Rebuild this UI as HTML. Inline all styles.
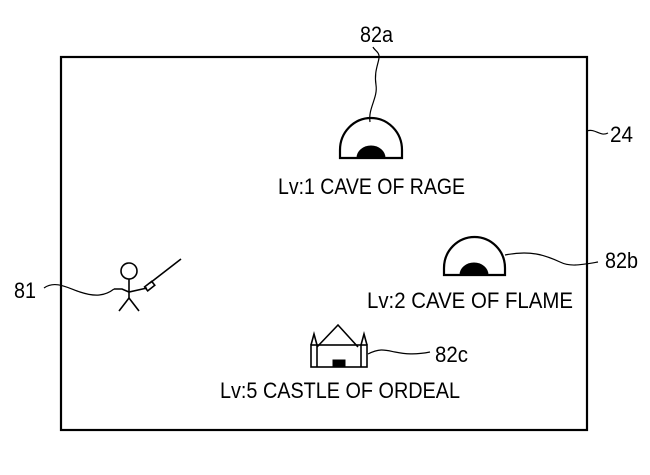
<!DOCTYPE html>
<html><head><style>body{margin:0;background:#fff}svg{display:block}</style></head><body>
<svg width="650" height="475" viewBox="0 0 650 475" xmlns="http://www.w3.org/2000/svg" font-family="'Liberation Sans', sans-serif" fill="none" stroke="#000">
<rect x="61" y="57" width="526" height="373" stroke-width="2.2"/>
<!-- 82a -->
<path d="M340 158 L340 150 A31 32 0 0 1 402 150 L402 158 Z" stroke-width="2.2"/>
<path d="M357 158 A14 12 0 0 1 385 158 Z" fill="#000"/>
<path d="M370 122 C368 108,378 98,376 85 C374 72,378 65,379 58 C380 52,374 50,373 47" stroke-width="1.2"/>
<!-- 82b -->
<path d="M444 275 L444 268 A30.5 31 0 0 1 505 268 L505 275 Z" stroke-width="2.2"/>
<path d="M460 275 A14 12 0 0 1 488 275 Z" fill="#000"/>
<path d="M505 255 C530 250,545 255,560 262 C570 267,580 265,598 262" stroke-width="1.2"/>
<!-- 24 leader -->
<path d="M587 131 C595 128,600 137,608 133" stroke-width="1.2"/>
<!-- castle -->
<g stroke-width="1.6">
<path d="M317 347 L338 325 L358 347"/>
<rect x="311" y="345" width="56" height="22"/>
<path d="M311 345 L314 334 L317 345 M361 345 L364 334 L367 345"/>
<line x1="317" y1="345" x2="317" y2="367"/><line x1="361" y1="345" x2="361" y2="367"/>
</g>
<rect x="333" y="360" width="12" height="7" fill="#000"/>
<path d="M368 354 C380 348,385 350,395 352 C405 354,415 355,430 352" stroke-width="1.2"/>
<!-- figure -->
<circle cx="129" cy="271" r="8" stroke-width="1.6"/>
<g stroke-width="1.6">
<line x1="129" y1="279" x2="129" y2="298"/>
<line x1="119" y1="311" x2="129" y2="298"/><line x1="139" y1="311" x2="129" y2="298"/>
<path d="M114 289 L122 289 L129 292 L147 288"/>
<line x1="150" y1="283" x2="181" y2="259"/>
<rect x="145" y="284" width="9" height="5" transform="rotate(-38 149 286)"/>
</g>
<path d="M44 288 C55 280,68 288,80 292 C95 297,105 296,114 289" stroke-width="1.2"/>
<g fill="#000" stroke="none" font-size="22">
<text x="278" y="194" textLength="187" lengthAdjust="spacingAndGlyphs">Lv:1 CAVE OF RAGE</text>
<text x="367" y="308" textLength="206" lengthAdjust="spacingAndGlyphs">Lv:2 CAVE OF FLAME</text>
<text x="220" y="398" textLength="240" lengthAdjust="spacingAndGlyphs">Lv:5 CASTLE OF ORDEAL</text>
<text x="360" y="42" textLength="33" lengthAdjust="spacingAndGlyphs">82a</text>
<text x="610" y="142" textLength="23" lengthAdjust="spacingAndGlyphs">24</text>
<text x="605" y="268" textLength="33" lengthAdjust="spacingAndGlyphs">82b</text>
<text x="435" y="362" textLength="33" lengthAdjust="spacingAndGlyphs">82c</text>
<text x="14" y="298" textLength="22" lengthAdjust="spacingAndGlyphs">81</text>
</g>
</svg>
</body></html>
